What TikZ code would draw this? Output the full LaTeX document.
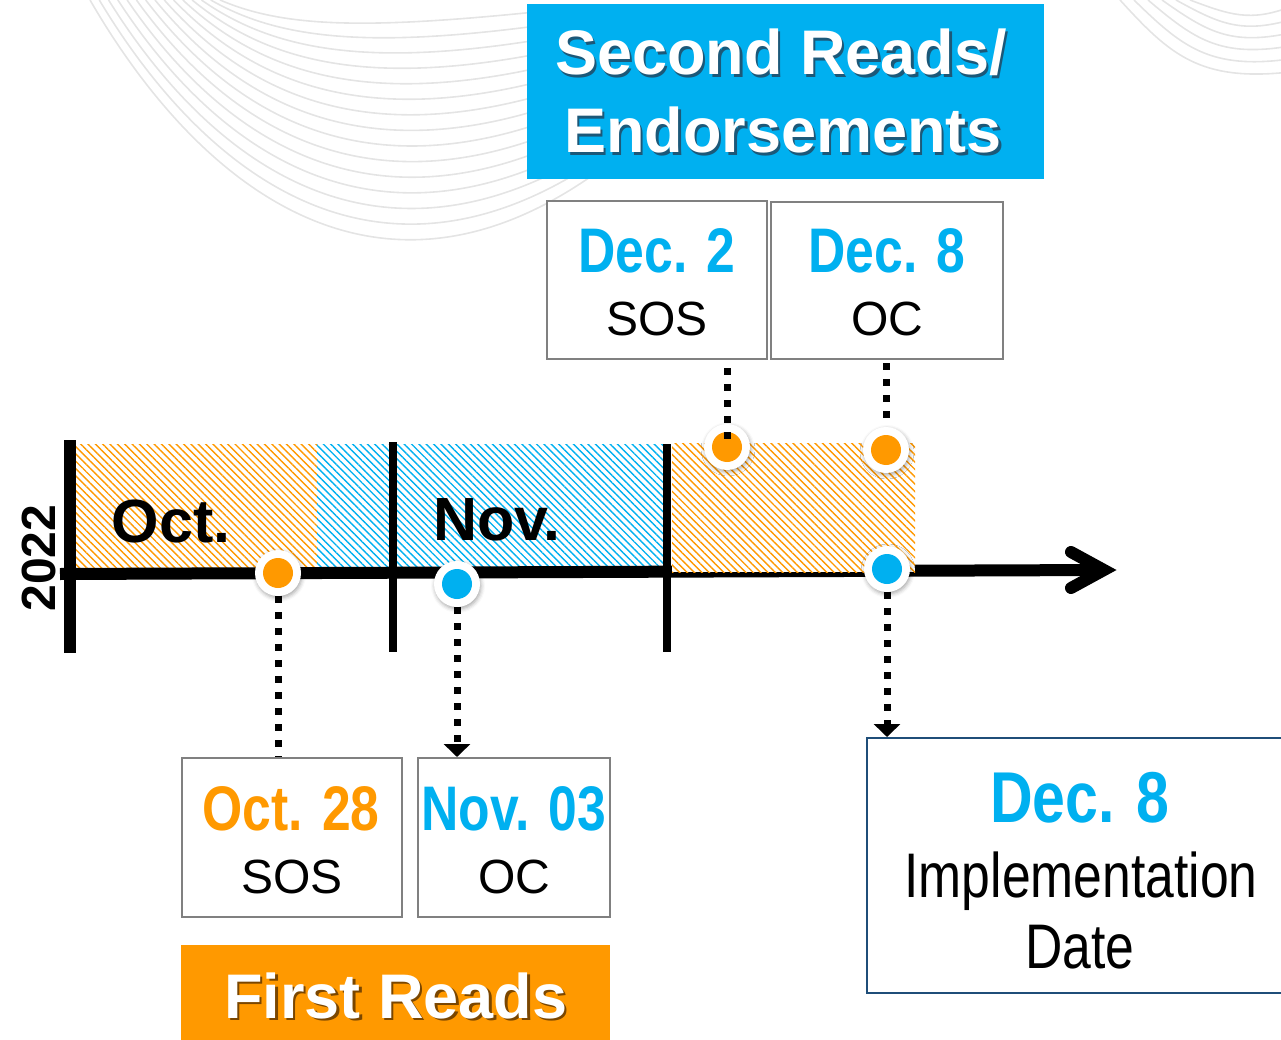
\documentclass[tikz,border=0pt]{standalone}
\usepackage{fontspec}
\setmainfont{Liberation Sans}
\newfontfamily\narrowfont[FakeStretch=0.82]{Liberation Sans}
\usetikzlibrary{arrows.meta,patterns.meta,shadows.blur}
\definecolor{blueC}{HTML}{00B0F0}
\definecolor{orangeC}{HTML}{FF9900}
\definecolor{boxgray}{HTML}{808080}
\definecolor{navyC}{HTML}{1F4E79}
\definecolor{swirl}{HTML}{E4E4E4}
\definecolor{tshadowB}{HTML}{1C5878}
\definecolor{tshadowO}{HTML}{7A4600}
\newcommand{\setfs}[1]{\fontsize{#1}{#1}\selectfont}
\begin{document}
\begin{tikzpicture}[x=1pt,y=-1pt,
  datebox/.style={draw=boxgray, line width=2pt, fill=white, inner sep=0pt},
  lbl/.style={anchor=base, inner sep=0pt},
  datelbl/.style={lbl, font=\narrowfont\bfseries\setfs{63}},
  wholbl/.style={lbl, font=\setfs{48}},
  titlelbl/.style={lbl, font=\bfseries\setfs{63}},
  ring/.style={circle, fill=white, minimum size=46pt, inner sep=0pt,
    blur shadow={shadow xshift=1pt, shadow yshift=-2pt, shadow blur radius=4pt, shadow opacity=35}},
  dotline/.style={line width=7pt, dash pattern=on 7pt off 9pt},
  tip/.style={-{Triangle[width=26pt,length=13pt]}},
  hatchO/.style={pattern={Lines[angle=-45,distance=5.2pt,line width=1.4pt]}, pattern color=orangeC},
  hatchB/.style={pattern={Lines[angle=-45,distance=5.2pt,line width=1.4pt]}, pattern color=blueC},
]
\useasboundingbox (0,0) rectangle (1281,1040);
\clip (0,0) rectangle (1281,1040);

% background swirl lines
\foreach \i in {0,...,14} {
  \pgfmathsetmacro{\t}{\i/14}
  \draw[swirl, line width=1.6pt] (90+130*\t,0) .. controls (200+90*\t,190-160*\t) and (380,330-300*\t) .. (600,170-165*\t);
}
\foreach \j in {0,...,5} {
  \draw[swirl, line width=1.6pt] (1120+14*\j,0) .. controls (1170+12*\j,55-8*\j) and (1200+10*\j,82-12*\j) .. (1290,72-13*\j);
}

% title boxes
\node[fill=blueC, minimum width=517pt, minimum height=175pt, inner sep=0pt] (sec) at (785.5,91.5) {};
\node[titlelbl, text=tshadowB] (secAs) at (783.5,77.5) {Second Reads/};
\node[titlelbl, text=white] (secA) at (781,75) {Second Reads/};
\node[titlelbl, text=tshadowB] (secBs) at (785.5,155.5) {Endorsements};
\node[titlelbl, text=white] (secB) at (783,153) {Endorsements};

\node[fill=orangeC, minimum width=429pt, minimum height=96pt, inner sep=0pt] (first) at (395.5,993) {};
\node[titlelbl, text=tshadowO] (firstTs) at (398.5,1020.5) {First Reads};
\node[titlelbl, text=white] (firstT) at (396,1018) {First Reads};

% hatched periods
\fill[hatchO] (75,444) rectangle (317,568);
\fill[hatchB] (317,444) rectangle (664,568);

% axis
\coordinate (axL) at (60,574);
\coordinate (axR) at (1104,570);
\draw[line width=12pt] (axL) -- (axR);
\draw[line width=12pt, line cap=round, line join=miter] (1071,552) -- (axR) -- (1071,588);

\fill[white] (672,443) rectangle (915,572);
\fill[hatchO] (672,443) rectangle (915,572);

% month ticks
\draw[line width=12pt] (69.5,440) -- (69.5,653);
\draw[line width=8pt] (393,442) -- (393,652);
\draw[line width=8pt] (667,444) -- (667,652);

\node[lbl, font=\bfseries\setfs{61}] (octL) at (171,542) {Oct.};
\node[lbl, font=\bfseries\setfs{61}] (novL) at (497,540) {Nov.};
\node[rotate=90, anchor=base, inner sep=0pt, font=\bfseries\setfs{48}] (yr) at (55,558) {2022};

% date boxes
\node[datebox, minimum width=220pt, minimum height=159pt] (oct) at (292,837.5) {};
\node[datelbl, text=orangeC] (octD) at (291,830) {Oct. 28};
\node[wholbl] (octW) at (292,893) {SOS};

\node[datebox, minimum width=192pt, minimum height=159pt] (nov) at (514,837.5) {};
\node[datelbl, text=blueC] (novD) at (514,830) {Nov. 03};
\node[wholbl] (novW) at (514,893) {OC};

\node[datebox, minimum width=220pt, minimum height=158pt] (dec2) at (657,280) {};
\node[datelbl, text=blueC] (dec2D) at (657,273) {Dec. 2};
\node[wholbl] (dec2W) at (657,335) {SOS};

\node[datebox, minimum width=232pt, minimum height=157pt] (dec8) at (887,280.5) {};
\node[datelbl, text=blueC] (dec8D) at (887,273) {Dec. 8};
\node[wholbl] (dec8W) at (887,335) {OC};

\node[draw=navyC, line width=2pt, fill=white, minimum width=423pt, minimum height=255pt, inner sep=0pt] (impl) at (1078.5,865.5) {};
\node[lbl, text=blueC, font=\narrowfont\bfseries\setfs{72}] (implD) at (1080,822) {Dec. 8};
\node[lbl, font=\narrowfont\setfs{63}] (implA) at (1081,897) {Implementation};
\node[lbl, font=\narrowfont\setfs{63}] (implB) at (1080,968) {Date};

% milestone dots
\node[ring] (d1) at (278,573) {};
\fill[orangeC] (d1) circle (15);
\node[ring] (d2) at (457,584) {};
\fill[blueC] (d2) circle (15);
\node[ring] (d3) at (727,447) {};
\fill[orangeC] (d3) circle (15);
\node[ring] (d4) at (886,450) {};
\fill[orangeC] (d4) circle (15);
\node[ring] (d5) at (887,569) {};
\fill[blueC] (d5) circle (15);

% connectors
\coordinate (c3) at ([yshift=-8pt]dec2.south);
\coordinate (c4) at ([yshift=-3pt]dec8.south);
\draw[dotline] (d1.south) -- (oct.north -| d1);
\draw[dotline, tip] (d2.south) -- (nov.north -| d2);
\draw[dotline] (c3 -| d3) -- (d3.center);
\draw[dotline] (c4 -| d4) -- (d4.north);
\draw[dotline, tip] (d5.south) -- (impl.north -| d5);
\end{tikzpicture}
\end{document}
